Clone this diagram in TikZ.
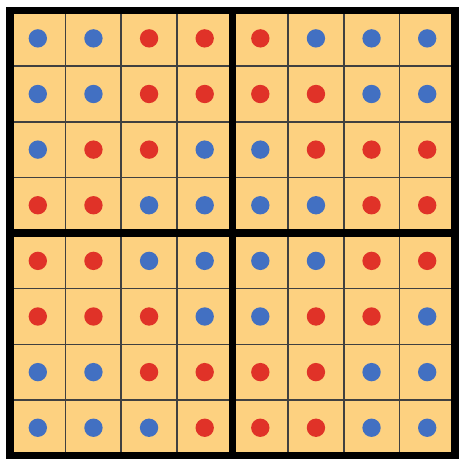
\documentclass[tikz,border=0pt]{standalone}
\usepackage{tikz}
\definecolor{cellfill}{RGB}{253,209,128}
\definecolor{dotblue}{RGB}{66,112,194}
\definecolor{dotred}{RGB}{224,50,40}

\begin{document}
\begin{tikzpicture}[
  dotb/.style={circle,fill=dotblue,inner sep=0pt,minimum size=3.3mm},
  dotr/.style={circle,fill=dotred,inner sep=0pt,minimum size=3.3mm},
  thin grid/.style={line width=0.8pt,black!75},
  thick rule/.style={line width=4pt,black}
]
\useasboundingbox (-0.18,-0.07) rectangle (8.09,8.19);
\fill[cellfill] (0,0) rectangle (8,8);
\draw[thin grid,step=1] (0,0) grid (8,8);
% dots, row by row from the top
\foreach \row [count=\r] in {{b,b,r,r,r,b,b,b},{b,b,r,r,r,r,b,b},
    {b,r,r,b,b,r,r,r},{r,r,b,b,b,b,r,r},{r,r,b,b,b,b,r,r},
    {r,r,r,b,b,r,r,b},{b,b,r,r,r,r,b,b},{b,b,b,r,r,r,b,b}}
  \foreach \c [count=\k] in \row
    \node[dot\c] (d\r-\k) at (\k-0.5,8.5-\r) {};
% quadrant borders
\draw[thick rule] (0,0) rectangle (8,8);
\draw[thick rule] (4,0) -- (4,8);
\draw[thick rule] (0,4) -- (8,4);
\end{tikzpicture}
\end{document}
